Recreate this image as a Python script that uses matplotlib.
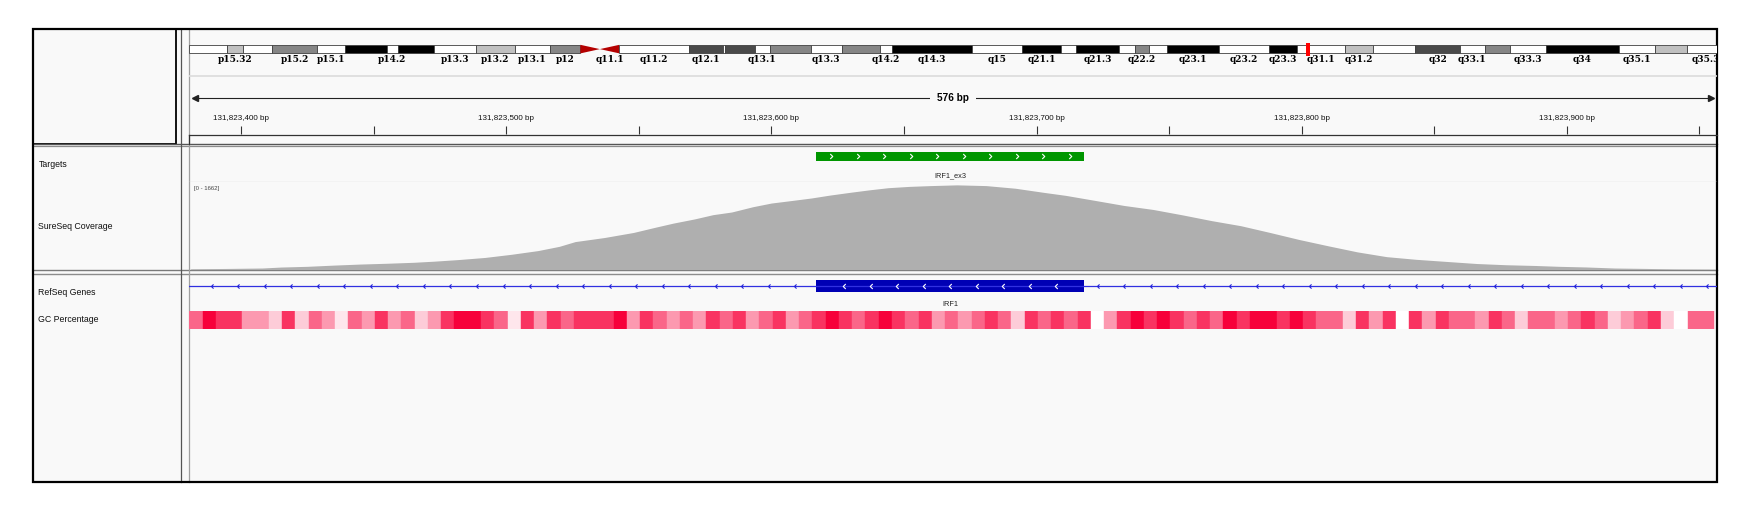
import numpy as np
import matplotlib
matplotlib.use("Agg")
import matplotlib.pyplot as plt
from matplotlib.patches import Rectangle, Polygon
from matplotlib.path import Path
from matplotlib.colors import LinearSegmentedColormap

plt.rcParams['font.family'] = ['Liberation Sans', 'DejaVu Sans']

# chr5 cytobands (hg19), band end positions in Mb
band_names = ['p15.33', 'p15.32', 'p15.31', 'p15.2', 'p15.1', 'p14.3', 'p14.2', 'p14.1',
              'p13.3', 'p13.2', 'p13.1', 'p12', 'p11', 'q11.1', 'q11.2', 'q12.1', 'q12.2',
              'q12.3', 'q13.1', 'q13.2', 'q13.3', 'q14.1', 'q14.2', 'q14.3', 'q15', 'q21.1',
              'q21.2', 'q21.3', 'q22.1', 'q22.2', 'q22.3', 'q23.1', 'q23.2', 'q23.3', 'q31.1',
              'q31.2', 'q31.3', 'q32', 'q33.1', 'q33.2', 'q33.3', 'q34', 'q35.1', 'q35.2', 'q35.3']
band_ends = [4.5, 6.3, 9.8, 15.0, 18.4, 23.3, 24.6, 28.9, 33.8, 38.4, 42.5, 46.1, 48.4, 50.7,
             58.9, 62.9, 63.2, 66.7, 68.4, 73.3, 76.9, 81.4, 82.8, 92.3, 98.2, 102.8, 104.5,
             109.6, 111.5, 113.1, 115.2, 121.4, 127.3, 130.6, 136.2, 139.5, 144.5, 149.8,
             152.7, 155.7, 159.9, 168.5, 172.8, 176.6, 180.9]
band_stains = ['gneg', 'gpos25', 'gneg', 'gpos50', 'gneg', 'gpos100', 'gneg', 'gpos100',
               'gneg', 'gpos25', 'gneg', 'gpos50', 'acen', 'acen', 'gneg', 'gpos75', 'gneg',
               'gpos75', 'gneg', 'gpos50', 'gneg', 'gpos50', 'gneg', 'gpos100', 'gneg',
               'gpos100', 'gneg', 'gpos100', 'gneg', 'gpos50', 'gneg', 'gpos100', 'gneg',
               'gpos100', 'gneg', 'gpos25', 'gneg', 'gpos75', 'gneg', 'gpos50', 'gneg',
               'gpos100', 'gneg', 'gpos25', 'gneg']
shown_labels = ['p15.32', 'p15.2', 'p15.1', 'p14.2', 'p13.3', 'p13.2', 'p13.1', 'p12', 'q11.1',
                'q11.2', 'q12.1', 'q13.1', 'q13.3', 'q14.2', 'q14.3', 'q15', 'q21.1', 'q21.3',
                'q22.2', 'q23.1', 'q23.2', 'q23.3', 'q31.1', 'q31.2', 'q32', 'q33.1', 'q33.3',
                'q34', 'q35.1', 'q35.3']

# current locus
locus_start = 131823381
locus_end = 131823956
tick_step = 50

# Targets track
target_start, target_end = 131823617, 131823718
target_name = 'IRF1_ex3'

# RefSeq gene (minus strand)
exon_start, exon_end = 131823617, 131823718
gene_name = 'IRF1'

# SureSeq coverage
cov_max = 1662
cov_pos = [381, 395, 408, 415, 425, 435, 445, 455, 465, 473, 482, 492, 502, 512, 520, 526,
           537, 548, 556, 563, 571, 578, 585, 593, 600, 608, 615, 622, 630, 637, 644, 652,
           660, 670, 681, 692, 703, 711, 722, 733, 744, 755, 766, 777, 788, 799, 810, 821,
           832, 843, 855, 866, 877, 888, 897, 907, 918, 930, 941, 956]
cov_val = [15, 22, 30, 48, 62, 85, 105, 120, 138, 160, 190, 230, 290, 360, 440, 530,
           607, 703, 799, 880, 959, 1040, 1090, 1190, 1260, 1310, 1355, 1410, 1465, 1510, 1550, 1575,
           1590, 1604, 1590, 1540, 1460, 1405, 1310, 1214, 1138, 1036, 927, 831, 703, 570, 450, 335,
           245, 195, 153, 115, 92, 78, 62, 50, 30, 22, 12, 8]

# GC percentage in 5 bp windows
gc_window = 5
gc_values = [60, 100, 80, 80, 40, 40, 20, 80, 20, 60, 40, 10, 60, 40, 80, 40, 60, 20, 40, 80,
             100, 100, 80, 60, 10, 80, 40, 80, 60, 80, 80,
             80, 100, 40, 80, 60, 40, 60, 40, 80, 60, 80, 40, 60, 80, 40, 60, 80, 100, 80, 60,
             80, 100, 80, 60, 80, 40, 60, 40, 60, 80, 60, 20, 80, 60, 80, 60, 80, 0, 40, 80,
             100, 80, 100, 80, 60, 80, 60, 100, 80, 100, 100, 80, 100,
             80, 60, 60, 20, 80, 40, 80, 0, 80, 40, 80, 60, 60, 40, 80, 60, 20, 60, 60, 40,
             60, 80, 60, 20, 40, 60, 80, 20, 0, 60, 60]

# ---------------------------------------------------------------- layout (pixels)
W, H = 1752, 515
FX0, FY0, FX1, FY1 = 33, 29, 1717, 482      # window frame
DL, DR = 189.3, 1716.7                      # data panel
ideo_px_per_mb = 8.483
BG = '#F9F9F9'

fig = plt.figure(figsize=(W / 100, H / 100), dpi=100)
bg = fig.add_axes([0, 0, 1, 1])
bg.set_xlim(0, W)
bg.set_ylim(H, 0)
bg.axis('off')


def px_axes(x0, y0, x1, y1):
    ax = fig.add_axes([x0 / W, 1 - y1 / H, (x1 - x0) / W, (y1 - y0) / H])
    ax.axis('off')
    return ax


bg.add_patch(Rectangle((FX0, FY0), FX1 - FX0, FY1 - FY0, facecolor=BG, edgecolor='none'))
# panel separators
bg.plot([FX0, FX1], [143.8, 143.8], color='#555555', lw=1.0)
bg.plot([FX0, FX1], [145.8, 145.8], color='#8C8C8C', lw=0.9)
bg.plot([FX0, FX1], [270.2, 270.2], color='#7A7A7A', lw=1.0)
bg.plot([FX0, FX1], [274.0, 274.0], color='#8C8C8C', lw=1.0)
bg.plot([181, 181], [FY0, FY1], color='#555555', lw=0.9)
bg.plot([188.6, 188.6], [FY0, FY1], color='#A0A0A0', lw=0.9)
bg.add_patch(Rectangle((FX0, FY0), 175.5 - FX0, 143.5 - FY0, facecolor='none',
                       edgecolor='black', lw=1.3))
bg.add_patch(Rectangle((FX0, FY0), FX1 - FX0, FY1 - FY0, facecolor='none',
                       edgecolor='black', lw=1.6, zorder=10))

# track names
for name, y in [('Targets', 164.3), ('SureSeq Coverage', 226.7),
                ('RefSeq Genes', 292.8), ('GC Percentage', 319.6)]:
    bg.text(38.5, y, name, fontsize=6.3, color='#111111', va='center', ha='left')
bg.text(193.5, 188.5, '[0 - %d]' % cov_max, fontsize=4.3, color='#444444', va='center')

view_start, view_end = locus_start - 0.5, locus_end + 0.5

# ---------------------------------------------------------------- ideogram
ax = px_axes(DL, 40, DR, 66)
ax.set_xlim(0, (DR - DL) / ideo_px_per_mb)
ax.set_ylim(66, 40)
stain_color = {'gneg': '#FFFFFF', 'gpos25': '#C0C0C0', 'gpos50': '#868686',
               'gpos75': '#4A4A4A', 'gpos100': '#000000', 'acen': '#B40000'}
top, bot = 44.8, 53.4
mid = (top + bot) / 2
band_starts = [0.0] + band_ends[:-1]
for nm, s, e, st in zip(band_names, band_starts, band_ends, band_stains):
    if st == 'acen':
        if nm.startswith('p'):
            pts = [(s, top), (e, mid), (s, bot)]
        else:
            pts = [(s, mid), (e, top), (e, bot)]
        ax.add_patch(Polygon(pts, closed=True, facecolor=stain_color[st], edgecolor='none'))
    else:
        ax.add_patch(Rectangle((s, top), e - s, bot - top, facecolor=stain_color[st],
                               edgecolor='#404040', lw=0.6))
    if nm in shown_labels:
        ax.text((s + e) / 2, 59.6, nm, fontsize=6.5, family='DejaVu Serif', weight='bold',
                ha='center', va='center', clip_on=True)
locus_mb = (locus_start + locus_end) / 2 / 1e6
ax.add_patch(Rectangle((locus_mb - 0.24, 42.7), 0.48, 13.3, facecolor='#FF0000',
                       edgecolor='none', zorder=5))

# ---------------------------------------------------------------- ruler
ax = px_axes(DL, 60, DR, 144)
ax.set_xlim(view_start, view_end)
ax.set_ylim(144, 60)
ax.plot([view_start, view_end], [76, 76], color='#DCDCDC', lw=1.2)
ax.plot([view_start + 2, view_end - 2], [98.3, 98.3], color='#222222', lw=0.8)
ax.plot([view_start + 2.3], [98.3], marker='<', ms=4.5, color='#222222', ls='none')
ax.plot([view_end - 2.3], [98.3], marker='>', ms=4.5, color='#222222', ls='none')
ax.text((view_start + view_end) / 2, 98.3, '%d bp' % (locus_end - locus_start + 1),
        fontsize=7.2, weight='bold', ha='center', va='center', zorder=4,
        bbox=dict(boxstyle='square,pad=0.75', facecolor=BG, edgecolor='none'))
ticks = np.arange((locus_start // tick_step + 1) * tick_step, locus_end + 1, tick_step)
ax.vlines(ticks, 125.5, 134, color='#333333', lw=0.8)
for t in ticks:
    if t % 100 == 0:
        ax.text(t, 118.3, '{:,} bp'.format(t), fontsize=5.8, ha='center', va='center',
                color='#111111')
ax.plot([view_start, view_end], [134.5, 134.5], color='#333333', lw=0.9, clip_on=False)
ax.plot([view_start, view_start], [134.5, 143.5], color='#333333', lw=0.9, clip_on=False)

# chevron markers
chev_r = Path([(-0.5, 1.0), (0.5, 0.0), (-0.5, -1.0)], [Path.MOVETO, Path.LINETO, Path.LINETO])
chev_l = Path([(0.5, 1.0), (-0.5, 0.0), (0.5, -1.0)], [Path.MOVETO, Path.LINETO, Path.LINETO])

# ---------------------------------------------------------------- targets
ax = px_axes(DL, 146, DR, 182)
ax.set_xlim(view_start, view_end)
ax.set_ylim(182, 146)
ax.add_patch(Rectangle((target_start, 151.8), target_end - target_start, 9.2,
                       facecolor='#009600', edgecolor='none'))
ax.plot(np.arange(target_start + 5.5, target_end, 10), [156.4] * 10, ls='none', marker=chev_r,
        ms=3.6, mfc='none', mec='white', mew=0.8)
ax.text((target_start + target_end) / 2, 175.6, target_name, fontsize=5.3, ha='center',
        va='center', color='#222222')
ax.plot([view_start, view_end], [181.5, 181.5], color='#DCDCDC', lw=1.0)

# ---------------------------------------------------------------- coverage
ax = px_axes(DL, 181.8, DR, 269.6)
ax.set_xlim(view_start, view_end)
ax.set_ylim(0, cov_max)
cx = np.array(cov_pos) + 131823000
ax.fill_between(cx, cov_val, 0, color='#AFAFAF', lw=0)

# ---------------------------------------------------------------- RefSeq gene
ax = px_axes(DL, 274.5, DR, 310)
ax.set_xlim(view_start, view_end)
ax.set_ylim(310, 274.5)
ax.plot([view_start, view_end], [286, 286], color='#3030E0', lw=0.9)
line_ticks = np.concatenate([np.arange(locus_start + 8, exon_start - 3, 10),
                             np.arange(exon_end + 5, locus_end + 1, 10)])
ax.plot(line_ticks, [286] * len(line_ticks), ls='none', marker=chev_l, ms=3.0,
        mfc='none', mec='#2020D8', mew=0.8)
ax.add_patch(Rectangle((exon_start, 279.6), exon_end - exon_start, 12,
                       facecolor='#0000B4', edgecolor='none'))
ex_ch = np.arange(exon_start + 10.5, exon_end - 5, 10)
ax.plot(ex_ch, [285.6] * len(ex_ch), ls='none', marker=chev_l, ms=3.6,
        mfc='none', mec='white', mew=0.8)
ax.text((exon_start + exon_end) / 2, 304, gene_name, fontsize=5.3, ha='center', va='center',
        color='#222222')

# ---------------------------------------------------------------- GC percentage
ax = px_axes(DL, 310.5, DR, 328.6)
ax.set_xlim(view_start, view_end)
ax.set_ylim(0, 1)
gc_cmap = LinearSegmentedColormap.from_list('gc', ['#FFFFFF', '#F7003A'])
gx = view_start + gc_window * np.arange(len(gc_values))
gcol = gc_cmap(np.array(gc_values) / 100.0)
ax.bar(gx, 1, width=gc_window, align='edge', color=gcol, edgecolor=gcol, lw=0.3)

fig.savefig('out.png', dpi=100, facecolor='white')
